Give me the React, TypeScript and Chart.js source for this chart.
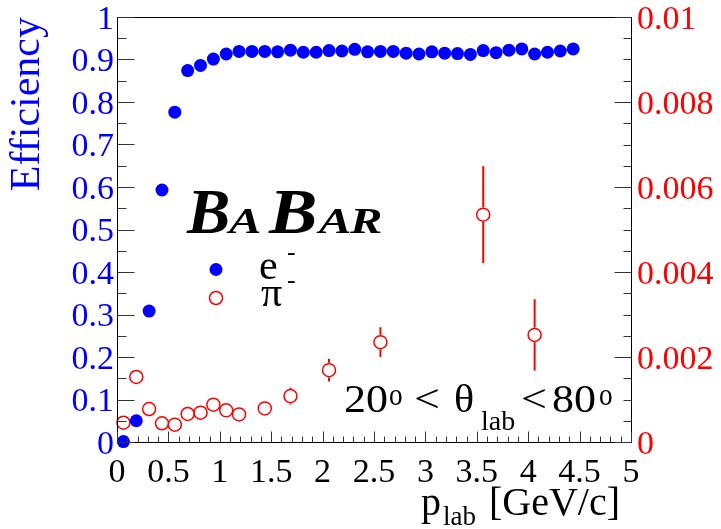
import React, { useEffect, useRef } from 'react';
import { Chart, registerables } from 'chart.js';

Chart.register(...registerables);

const FONT = "'Liberation Serif', 'Times New Roman', Times, serif";
const BLUE = '#0000ff';
const RED = '#ff0000';

// electron efficiency (left axis)
const eMomentum = [
  0.0625, 0.1875, 0.3125, 0.4375, 0.5625, 0.6875, 0.8125, 0.9375, 1.0625, 1.1875,
  1.3125, 1.4375, 1.5625, 1.6875, 1.8125, 1.9375, 2.0625, 2.1875, 2.3125, 2.4375,
  2.5625, 2.6875, 2.8125, 2.9375, 3.0625, 3.1875, 3.3125, 3.4375, 3.5625, 3.6875,
  3.8125, 3.9375, 4.0625, 4.1875, 4.3125, 4.4375,
];
const eEfficiency = [
  0.001, 0.05, 0.308, 0.593, 0.776, 0.874, 0.886, 0.901, 0.913, 0.919,
  0.919, 0.919, 0.918, 0.922, 0.917, 0.917, 0.921, 0.92, 0.924, 0.918,
  0.919, 0.919, 0.915, 0.913, 0.918, 0.915, 0.914, 0.912, 0.921, 0.916,
  0.922, 0.925, 0.913, 0.917, 0.92, 0.925,
];

// pion mis-identification (right axis)
const piMomentum = [
  0.0625, 0.1875, 0.3125, 0.4375, 0.5625, 0.6875, 0.8125, 0.9375, 1.0625, 1.1875,
  1.4375, 1.6875, 2.0625, 2.5625, 3.5625, 4.0625,
];
const piMisId = [
  0.000454, 0.00153, 0.000776, 0.00044, 0.000408, 0.000659, 0.00069, 0.000878, 0.000745, 0.00065,
  0.00079, 0.00108, 0.00169, 0.00235, 0.00535, 0.00252,
];
const piMisIdErr = [
  0.00004, 0.0001, 0.00006, 0.00005, 0.00005, 0.00006, 0.00007, 0.00009, 0.00009, 0.0001,
  0.00011, 0.0002, 0.000266, 0.00035, 0.00114, 0.00084,
];

const xTicks = [0, 0.5, 1, 1.5, 2, 2.5, 3, 3.5, 4, 4.5, 5];
const xTickLabels = ['0', '0.5', '1', '1.5', '2', '2.5', '3', '3.5', '4', '4.5', '5'];
const leftTicks = [0, 0.1, 0.2, 0.3, 0.4, 0.5, 0.6, 0.7, 0.8, 0.9, 1];
const leftTickLabels = ['0', '0.1', '0.2', '0.3', '0.4', '0.5', '0.6', '0.7', '0.8', '0.9', '1'];
const rightTicks = [0, 0.002, 0.004, 0.006, 0.008, 0.01];
const rightTickLabels = ['0', '0.002', '0.004', '0.006', '0.008', '0.01'];

const MARKER_R = 6.5;

function drawTicks(ctx: CanvasRenderingContext2D, scale: any, min: number, max: number, step: number, majorEvery: number, majorLen: number, minorLen: number, side: 'bottom' | 'left' | 'right', area: any) {
  const n = Math.round((max - min) / step);
  for (let i = 0; i <= n; i++) {
    const v = min + i * step;
    const p = Math.round(scale.getPixelForValue(v)) + 0.5;
    const len = i % majorEvery === 0 ? majorLen : minorLen;
    ctx.beginPath();
    if (side === 'bottom') {
      ctx.moveTo(p, area.bottom);
      ctx.lineTo(p, area.bottom - len);
    } else if (side === 'left') {
      ctx.moveTo(area.left, p);
      ctx.lineTo(area.left + len, p);
    } else {
      ctx.moveTo(area.right, p);
      ctx.lineTo(area.right - len, p);
    }
    ctx.stroke();
  }
}

function txt(ctx: CanvasRenderingContext2D, t: string, x: number, y: number, size: number, sx = 1, style = '') {
  ctx.save();
  ctx.translate(x, y);
  ctx.scale(sx, 1);
  ctx.font = `${style} ${size}px ${FONT}`;
  ctx.fillText(t, 0, 0);
  ctx.restore();
}

const decor = {
  id: 'decor',
  afterDatasetsDraw(chart: any) {
    const ctx: CanvasRenderingContext2D = chart.ctx;
    const xs = chart.scales.x;
    const ys = chart.scales.y1;
    ctx.save();
    ctx.strokeStyle = RED;
    ctx.lineWidth = 2;
    const r = MARKER_R + 0.8;
    piMomentum.forEach((m, i) => {
      const px = xs.getPixelForValue(m);
      const py = ys.getPixelForValue(piMisId[i]);
      const top = ys.getPixelForValue(piMisId[i] + piMisIdErr[i]);
      const bot = ys.getPixelForValue(piMisId[i] - piMisIdErr[i]);
      if (py - top > r) {
        ctx.beginPath();
        ctx.moveTo(px, top);
        ctx.lineTo(px, py - r);
        ctx.stroke();
      }
      if (bot - py > r) {
        ctx.beginPath();
        ctx.moveTo(px, py + r);
        ctx.lineTo(px, bot);
        ctx.stroke();
      }
    });
    ctx.restore();
  },
  afterDraw(chart: any) {
    const ctx: CanvasRenderingContext2D = chart.ctx;
    const area = chart.chartArea;
    const xs = chart.scales.x;
    const yl = chart.scales.y;
    const yr = chart.scales.y1;
    ctx.save();
    // frame
    ctx.strokeStyle = '#000';
    ctx.lineWidth = 1;
    const L = Math.round(area.left) + 0.5;
    const R = Math.round(area.right) + 0.5;
    const T = Math.round(area.top) + 0.5;
    const B = Math.round(area.bottom) + 0.5;
    ctx.strokeRect(L, T, R - L, B - T);
    // ticks
    ctx.strokeStyle = '#333';
    const a = { left: L, right: R, top: T, bottom: B };
    drawTicks(ctx, xs, 0, 5, 0.1, 5, 11, 6, 'bottom', a);
    drawTicks(ctx, yl, 0, 1, 0.05, 2, 17, 9, 'left', a);
    drawTicks(ctx, yr, 0, 0.01, 0.0005, 4, 17, 8, 'right', a);

    ctx.textAlign = 'left';
    ctx.textBaseline = 'alphabetic';
    ctx.fillStyle = '#000';

    // x axis title: p_lab [GeV/c]
    txt(ctx, 'p', 421, 515, 40);
    txt(ctx, 'lab', 443, 525, 27);
    txt(ctx, '[GeV/c]', 489, 515, 40);

    // angular range annotation
    txt(ctx, '20', 344, 412, 40, 1.1);
    txt(ctx, 'o', 389, 405, 32, 0.85);
    txt(ctx, '<', 414, 412, 40, 1.15);
    txt(ctx, '\u03b8', 454, 412, 40, 1.05);
    txt(ctx, 'lab', 481, 430, 28);
    txt(ctx, '<', 521, 412, 40, 1.15);
    txt(ctx, '80', 552, 412, 40, 1.1);
    txt(ctx, 'o', 599, 405, 32, 0.85);

    // BABAR logo
    txt(ctx, 'B', 187, 233, 63, 1.03, 'italic bold');
    txt(ctx, 'A', 229, 233, 36, 1.35, 'italic bold');
    txt(ctx, 'B', 269, 233, 63, 1.15, 'italic bold');
    txt(ctx, 'A', 319, 233, 36, 1.35, 'italic bold');
    txt(ctx, 'R', 350, 233, 36, 1.35, 'italic bold');

    // legend
    ctx.fillStyle = BLUE;
    ctx.beginPath();
    ctx.arc(216, 269.5, MARKER_R, 0, Math.PI * 2);
    ctx.fill();
    ctx.strokeStyle = RED;
    ctx.lineWidth = 1.5;
    ctx.beginPath();
    ctx.arc(216, 298, MARKER_R, 0, Math.PI * 2);
    ctx.stroke();
    ctx.fillStyle = '#000';
    txt(ctx, 'e', 259, 279, 42);
    txt(ctx, '-', 287, 260, 26);
    txt(ctx, '\u03c0', 261, 306, 42);
    txt(ctx, '-', 287, 288, 26);

    ctx.restore();
  },
};

const noPad = (s: any) => {
  s.paddingTop = 0;
  s.paddingBottom = 0;
  s.paddingLeft = 0;
  s.paddingRight = 0;
};

export default function App() {
  const ref = useRef<HTMLCanvasElement | null>(null);
  useEffect(() => {
    if (!ref.current) return;
    const chart = new Chart(ref.current, {
      type: 'scatter',
      data: {
        datasets: [
          {
            label: 'e-',
            data: eMomentum.map((x, i) => ({ x, y: eEfficiency[i] })),
            yAxisID: 'y',
            pointRadius: MARKER_R,
            pointBackgroundColor: BLUE,
            pointBorderWidth: 0,
            pointBorderColor: BLUE,
            clip: false as any,
          },
          {
            label: 'pi-',
            data: piMomentum.map((x, i) => ({ x, y: piMisId[i] })),
            yAxisID: 'y1',
            pointRadius: MARKER_R,
            pointBackgroundColor: 'rgba(0,0,0,0)',
            pointBorderColor: RED,
            pointBorderWidth: 1.5,
            clip: false as any,
          },
        ],
      },
      options: {
        responsive: false,
        animation: false,
        events: [],
        layout: { padding: { top: 17, left: 0, right: 0, bottom: 0 } },
        plugins: { legend: { display: false }, tooltip: { enabled: false } },
        scales: {
          x: {
            type: 'linear',
            min: 0,
            max: 5,
            grid: { display: false, drawTicks: false },
            border: { display: false },
            afterBuildTicks: (s: any) => { s.ticks = xTicks.map((v) => ({ value: v })); },
            afterFit: (s: any) => { s.height = 87; noPad(s); },
            ticks: {
              autoSkip: false,
              maxRotation: 0,
              padding: 11,
              color: '#000',
              font: { family: FONT, size: 34 },
              callback: (_v: any, i: number) => xTickLabels[i],
            },
          },
          y: {
            type: 'linear',
            position: 'left',
            min: 0,
            max: 1,
            grid: { display: false, drawTicks: false },
            border: { display: false },
            afterBuildTicks: (s: any) => { s.ticks = leftTicks.map((v) => ({ value: v })); },
            afterFit: (s: any) => { s.width = 117; noPad(s); },
            title: {
              display: true,
              text: 'Efficiency',
              color: BLUE,
              align: 'end',
              font: { family: FONT, size: 42 },
              padding: { top: 3, bottom: 0 },
            },
            ticks: {
              autoSkip: false,
              padding: 3,
              labelOffset: 3,
              color: BLUE,
              font: { family: FONT, size: 34 },
              callback: (_v: any, i: number) => leftTickLabels[i],
            },
          },
          y1: {
            type: 'linear',
            position: 'right',
            min: 0,
            max: 0.01,
            grid: { display: false, drawTicks: false },
            border: { display: false },
            afterBuildTicks: (s: any) => { s.ticks = rightTicks.map((v) => ({ value: v })); },
            afterFit: (s: any) => { s.width = 90; noPad(s); },
            ticks: {
              autoSkip: false,
              padding: 6,
              labelOffset: 3,
              color: RED,
              font: { family: FONT, size: 34 },
              callback: (_v: any, i: number) => rightTickLabels[i],
            },
          },
        },
      },
      plugins: [decor],
    } as any);
    return () => chart.destroy();
  }, []);
  return (
    <div style={{ position: 'fixed', left: 0, top: 0, width: 721, height: 529, background: '#fff' }}>
      <canvas ref={ref} width={721} height={529} style={{ display: 'block' }} />
    </div>
  );
}
